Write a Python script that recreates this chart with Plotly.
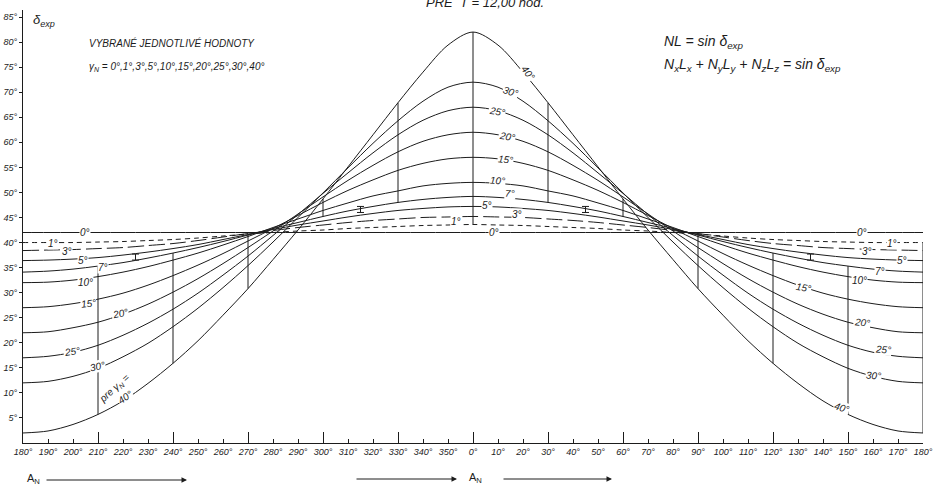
import plotly.graph_objects as go

# ---------------- data ----------------
# azimuth A_N (deg) for one half; the chart is symmetric about A_N = 0
A_half = [0, 10, 20, 30, 40, 50, 60, 70, 80, 90, 100, 110, 120, 130, 140, 150, 160, 170, 180]

g0 = [42.0, 42.0, 42.0, 42.0, 42.0, 42.0, 42.0, 42.0, 42.0, 42.0, 42.0, 42.0, 42.0, 42.0, 42.0, 42.0, 42.0, 42.0, 42.0]
g1 = [43.6, 43.5, 43.4, 43.2, 43.0, 42.8, 42.5, 42.3, 42.0, 41.7, 41.3, 40.9, 40.6, 40.4, 40.2, 40.1, 40.0, 40.0, 40.0]
g3 = [45.2, 45.1, 45.0, 44.7, 44.4, 44.0, 43.5, 43.0, 42.4, 41.8, 41.1, 40.4, 39.8, 39.4, 39.0, 38.8, 38.6, 38.5, 38.4]
g5 = [47.2, 47.1, 46.8, 46.4, 45.8, 45.1, 44.3, 43.5, 42.6, 41.6, 40.6, 39.6, 38.8, 38.1, 37.5, 37.0, 36.7, 36.5, 36.4]
g7 = [49.2, 49.0, 48.6, 48.0, 47.2, 46.3, 45.2, 44.0, 42.8, 41.5, 40.2, 39.0, 37.9, 36.9, 36.0, 35.3, 34.7, 34.3, 34.1]
g10 = [52.0, 51.8, 51.3, 50.3, 49.3, 47.9, 46.4, 44.7, 43.0, 41.2, 39.5, 37.9, 36.5, 35.2, 34.1, 33.2, 32.5, 32.1, 32.0]
g15 = [57.0, 56.7, 55.8, 54.4, 52.5, 50.4, 48.0, 45.4, 42.8, 40.3, 37.8, 35.5, 33.4, 31.5, 29.9, 28.7, 27.8, 27.2, 27.0]
g20 = [62.0, 61.5, 60.2, 58.1, 55.4, 52.4, 49.1, 45.7, 42.3, 39.0, 35.8, 32.8, 30.1, 27.7, 25.7, 24.1, 23.0, 22.2, 22.0]
g25 = [67.0, 66.3, 64.4, 61.5, 57.9, 53.9, 49.8, 45.6, 41.4, 37.3, 33.5, 29.9, 26.7, 23.9, 21.5, 19.5, 18.1, 17.3, 17.0]
g30 = [72.0, 71.0, 68.2, 64.3, 59.8, 54.9, 49.9, 45.0, 40.1, 35.4, 31.0, 26.9, 23.2, 19.9, 17.2, 14.9, 13.3, 12.3, 12.0]
g40 = [82.0, 79.4, 74.0, 67.9, 61.5, 55.1, 48.7, 42.5, 36.6, 30.8, 25.5, 20.4, 15.9, 11.9, 8.4, 5.7, 3.7, 2.4, 2.0]

gamma_names = ["0°", "1°", "3°", "5°", "7°", "10°", "15°", "20°", "25°", "30°", "40°"]
gamma_vals = [g0, g1, g3, g5, g7, g10, g15, g20, g25, g30, g40]

# vertical reading lines (between the 7° and 40° curves)
seg_A = [30, 60, 90, 120, 150]
# short marks between the 5° and 7° curves
mark_A = [45, 135]
mark_lo = [46.0, 36.5]
mark_hi = [47.2, 37.7]

# x tick labels
x_tickvals = list(range(-180, 181, 10))
x_ticktext = [f"{(v + 360) % 360}°" for v in x_tickvals]
x_ticktext[0] = "180°"
x_ticktext[-1] = "180°"
big_ticks = [-150, -120, -90, -60, -30, 0, 30, 60, 90, 120, 150]
y_tickvals = list(range(5, 86, 5))
y_ticktext = [f"{v}°" for v in y_tickvals]

# curve labels: text, A_N, delta, angle
lab_text = ["40°", "30°", "25°", "20°", "15°", "10°", "7°", "5°", "3°", "1°", "0°",
            "0°", "1°", "3°", "5°", "7°", "10°", "15°", "20°", "25°", "30°", "40°",
            "0°", "1°", "3°", "5°", "7°", "10°", "15°", "20°", "25°", "30°", "40°"]
lab_A = [22, 14.8, 9.6, 13.6, 12.8, 9.6, 14.8, 5.6, 17.6, -6.8, 8.4,
         155.6, 167.6, 157.6, 171.6, 162.8, 154.4, 132, 155.6, 164, 160, 147.2,
         -155.2, -168, -162.4, -156, -148, -155.2, -154, -141.2, -160.4, -150.4, -139.2]
lab_d = [74.0, 70.1, 66.1, 61.1, 56.5, 52.3, 49.7, 47.3, 45.5, 44.1, 42.1,
         42.0, 39.8, 38.3, 36.4, 34.2, 32.4, 31.1, 24.0, 18.6, 13.4, 7.0,
         42.0, 39.9, 38.2, 36.5, 35.1, 32.0, 27.9, 25.9, 18.2, 15.2, 9.0]
lab_ang = [52, 18, 10, 10, 6, 4, 3, 0, 0, 0, 0,
           0, 0, 0, 0, 0, 0, 10, 6, 4, 4, 18,
           0, 0, 0, 0, 0, 0, -6, -12, -8, -12, -35]

# ---------------- figure ----------------
FONT = "Liberation Sans"
INK = "#1c1c1c"


def mirror(vals):
    return list(reversed(vals[1:])) + list(vals)


A_full = [-a for a in reversed(A_half[1:])] + A_half

fig = go.Figure()
for name, vals in zip(gamma_names, gamma_vals):
    dash = "solid"
    if name == "1°":
        dash = "5px,4px"
    elif name == "3°":
        dash = "16px,5px"
    fig.add_trace(go.Scatter(
        x=A_full, y=mirror(vals), mode="lines", name=name,
        line=dict(color=INK, width=1, shape="spline", smoothing=0.9, dash=dash),
        hoverinfo="skip", showlegend=False))

# vertical reading lines
vx, vy = [], []
for a in seg_A:
    i = A_half.index(a)
    for s in (-1, 1):
        vx += [s * a, s * a, None]
        vy += [g7[i], g40[i], None]
vx += [0, 0, None, 180, 180, None]
vy += [g1[0], g40[0], None, g1[-1], g40[-1], None]
fig.add_trace(go.Scatter(x=vx, y=vy, mode="lines",
                         line=dict(color=INK, width=1), hoverinfo="skip", showlegend=False))

# short marks
mx, my = [], []
for a, lo, hi in zip(mark_A, mark_lo, mark_hi):
    for s in (-1, 1):
        mx += [s * a, s * a, None]
        my += [lo, hi, None]
fig.add_trace(go.Scatter(x=mx, y=my, mode="lines+markers",
                         line=dict(color=INK, width=1),
                         marker=dict(symbol="line-ew", size=5, line=dict(color=INK, width=1)),
                         hoverinfo="skip", showlegend=False))

# dummy trace for the tall-tick axis
fig.add_trace(go.Scatter(x=[None], y=[None], xaxis="x2", showlegend=False, hoverinfo="skip"))

ann = []
for t, a, d, ang in zip(lab_text, lab_A, lab_d, lab_ang):
    ann.append(dict(x=a, y=d, xref="x", yref="y", text=f"<i>{t}</i>", showarrow=False,
                    textangle=ang, bgcolor="white", borderpad=0,
                    font=dict(family=FONT, size=10, color=INK)))

ann.append(dict(x=-143.6, y=10.8, xref="x", yref="y", text="<i>pre γ<sub>N</sub> =</i>",
                showarrow=False, textangle=-42, font=dict(family=FONT, size=10, color=INK)))


def px(p):
    return (p - 23) / 900.0


def py(p):
    return (443 - p) / 433.0


texts = [
    ("<i>PRE  T = 12,00 hod.</i>", 485, 3, "center", 13),
    ("<i>VYBRANÉ JEDNOTLIVÉ HODNOTY</i>", 87, 43, "left", 10),
    ("<i>γ<sub>N</sub> = 0°,1°,3°,5°,10°,15°,20°,25°,30°,40°</i>", 87, 67, "left", 10),
    ("<i>NL = sin δ<sub>exp</sub></i>", 662, 42, "left", 14),
    ("<i>N<sub>x</sub>L<sub>x</sub> + N<sub>y</sub>L<sub>y</sub> + N<sub>z</sub>L<sub>z</sub> = sin δ<sub>exp</sub></i>", 662, 65, "left", 14),
    ("<i>δ<sub>exp</sub></i>", 31, 20, "left", 13),
    ("A<sub>N</sub>", 33, 479, "center", 11),
    ("A<sub>N</sub>", 476, 478, "center", 11),
]
for t, x, y, xa, fs in texts:
    ann.append(dict(x=px(x), y=py(y), xref="paper", yref="paper", text=t, showarrow=False,
                    xanchor=xa, yanchor="middle", font=dict(family=FONT, size=fs, color=INK)))

for tail, head, yy in [(45, 187, 480), (355, 457, 479), (502, 612, 479)]:
    ann.append(dict(x=px(head), y=py(yy), xref="paper", yref="paper", text="",
                    showarrow=True, ax=-(head - tail), ay=0, arrowhead=2, arrowsize=1.1,
                    arrowwidth=1, arrowcolor=INK))

fig.update_layout(
    width=936, height=492,
    margin=dict(l=23, r=13, t=10, b=49, autoexpand=False),
    paper_bgcolor="white", plot_bgcolor="white",
    showlegend=False,
    annotations=ann,
    xaxis=dict(range=[-180, 180], tickmode="array", tickvals=x_tickvals,
               ticktext=[f"<i>{t}</i>" for t in x_ticktext], automargin=False,
               ticks="inside", ticklen=4, tickcolor=INK, showline=True, linecolor=INK,
               linewidth=1, showgrid=False, zeroline=False, tickangle=0,
               tickfont=dict(family=FONT, size=9, color=INK)),
    xaxis2=dict(range=[-180, 180], overlaying="x", anchor="y", side="bottom",
                tickmode="array", tickvals=big_ticks, ticks="inside", ticklen=11,
                tickcolor=INK, showticklabels=False, showline=False, showgrid=False,
                zeroline=False, automargin=False),
    yaxis=dict(range=[0, 86.4], tickmode="array", tickvals=y_tickvals,
               ticktext=[f"<i>{t}</i>" for t in y_ticktext], automargin=False,
               ticks="outside", ticklen=3, tickcolor=INK, showline=True, linecolor=INK,
               linewidth=1, showgrid=False, zeroline=False,
               tickfont=dict(family=FONT, size=9, color=INK)),
)

fig.write_html("out.html", config={"displayModeBar": False},
               post_script="document.body.style.margin='0';document.body.style.overflow='hidden';")
